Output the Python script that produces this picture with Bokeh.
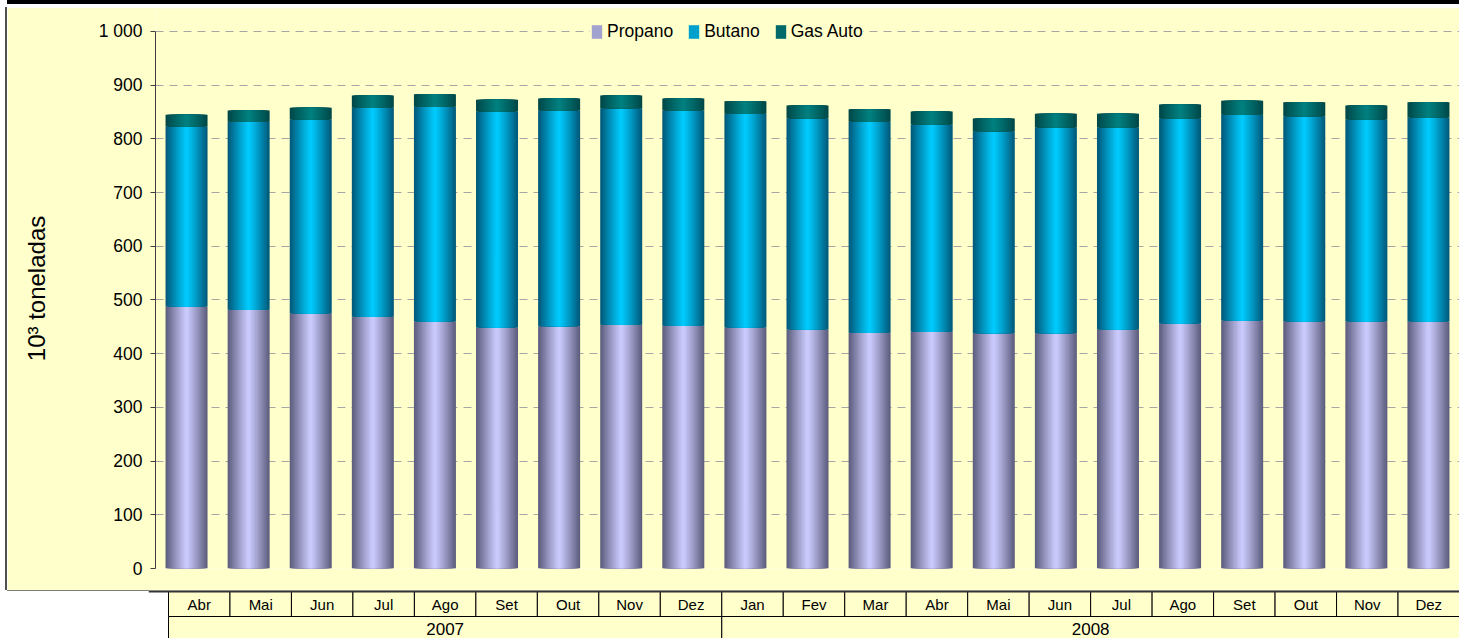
from bokeh.plotting import figure
from bokeh.models import ColumnDataSource, FactorRange, Range1d, FixedTicker, Legend, LegendItem, Span, Div
from bokeh.layouts import column
from bokeh.embed import file_html
from bokeh.resources import INLINE
from bokeh.core.properties import value

# ---------------- data ----------------
years = ["2007"] * 9 + ["2008"] * 12
months = ["Abr", "Mai", "Jun", "Jul", "Ago", "Set", "Out", "Nov", "Dez",
          "Jan", "Fev", "Mar", "Abr", "Mai", "Jun", "Jul", "Ago", "Set", "Out", "Nov", "Dez"]
propano = [488, 482, 475, 469, 460, 449, 451, 454, 452,
           449, 445, 439, 441, 438, 438, 445, 456, 462, 460, 460, 460]
butano = [335, 350, 361, 389, 400, 402, 402, 403, 401,
          398, 393, 393, 386, 376, 383, 376, 382, 383, 382, 376, 380]
gas_auto = [22, 21, 22, 23, 23, 22, 22, 24, 22,
            23, 24, 23, 24, 24, 26, 26, 26, 26, 26, 26, 28]
series_names = ["Propano", "Butano", "Gas Auto"]
y_ticks = [0, 100, 200, 300, 400, 500, 600, 700, 800, 900, 1000]
y_tick_labels = ["0", "100", "200", "300", "400", "500", "600", "700", "800", "900", "1 000"]
y_title = "10³ toneladas"

FONT = "Liberation Sans"
BG = "#FFFFCC"

# gradient colours (light centre, dark edge)
light_cols = ["#CCCCFF", "#00CCFF", "#008080"]
dark_cols = ["#5A5A7A", "#005676", "#004646"]


def mix(c1, c2, t):
    a = [int(c1[i:i + 2], 16) for i in (1, 3, 5)]
    b = [int(c2[i:i + 2], 16) for i in (1, 3, 5)]
    return "#%02x%02x%02x" % tuple(int(round(a[k] + (b[k] - a[k]) * t)) for k in range(3))


factors = list(zip(years, months))
p_top = [a for a in propano]
b_top = [a + b for a, b in zip(propano, butano)]
g_top = [a + b + c for a, b, c in zip(propano, butano, gas_auto)]
src = ColumnDataSource(dict(x=factors, zero=[0] * len(factors),
                            p_top=p_top, b_top=b_top, g_top=g_top))

# frames of a column are aligned on their local offset, so both use the same min_border_left
LOCAL_LEFT = 148

# ---------------- top rule ----------------
top_rule = Div(text="", width=1452, height=4, margin=(0, 0, 3, 7),
               styles={"background-color": "#000000"})

# ---------------- chart ----------------
p = figure(width=1452, height=583, margin=(0, 0, 0, 7),
           styles={"box-shadow": "-2px 0px 0px 0px #505050, 0px 1px 0px 0px #505050"},
           x_range=FactorRange(*factors, factor_padding=0, group_padding=0, range_padding=0),
           y_range=Range1d(0, 1042.8),
           output_backend="svg", toolbar_location=None,
           x_axis_location=None,
           min_border_left=LOCAL_LEFT, min_border_right=0, min_border_top=1, min_border_bottom=22,
           background_fill_color=BG, border_fill_color=BG, outline_line_color=None)

N = 16
W = 42 / 62.1
layers = [("zero", "p_top"), ("p_top", "b_top"), ("b_top", "g_top")]
legend_items = []
for s, (bot, top) in enumerate(layers):
    legend_r = None
    for j in range(N):
        frac = 1 - j / N
        tmid = frac - 0.5 / N
        col = mix(light_cols[s], dark_cols[s], min(1.0, tmid ** 1.1))
        r = p.vbar(x="x", width=W * frac, bottom=bot, top=top, source=src,
                   fill_color=col, line_color=None)
        if legend_r is None and tmid < 0.45:
            legend_r = r
    legend_items.append(LegendItem(label=series_names[s], renderers=[legend_r]))

p.xgrid.visible = False
p.ygrid.ticker = FixedTicker(ticks=y_ticks)
p.ygrid.grid_line_color = "#A6A6A6"
p.ygrid.grid_line_dash = "8 6"
p.ygrid.grid_line_width = 1

ax = p.yaxis[0]
ax.ticker = FixedTicker(ticks=y_ticks)
ax.major_label_overrides = {t: l for t, l in zip(y_ticks, y_tick_labels)}
ax.bounds = (0, 1000)
ax.axis_line_color = "#404040"
ax.major_tick_line_color = "#404040"
ax.major_tick_out = 5
ax.major_tick_in = 0
ax.minor_tick_line_color = None
ax.major_label_standoff = 8
ax.major_label_text_font = FONT
ax.major_label_text_font_size = "17.5px"
ax.major_label_text_color = "#000000"
ax.axis_label = y_title
ax.axis_label_text_font = FONT
ax.axis_label_text_font_size = "24px"
ax.axis_label_text_font_style = "normal"
ax.axis_label_text_color = "#000000"
ax.axis_label_standoff = 46

legend = Legend(items=legend_items, location=(435, 526), orientation="horizontal",
                background_fill_color=BG, background_fill_alpha=1.0,
                border_line_color=None, padding=10, margin=0, spacing=14,
                label_standoff=4, glyph_width=13, glyph_height=17, label_height=20,
                label_text_font=FONT, label_text_font_size="17.5px",
                label_text_color="#000000")
p.add_layout(legend)

# ---------------- table under the chart ----------------
table_left = 168
cell_px = (1459 - table_left) / len(months)
idx = list(range(len(months)))
t = figure(width=1459, height=48,
           x_range=Range1d(-(table_left - LOCAL_LEFT) / cell_px, len(months)),
           y_range=Range1d(-(638 - 616) / 25, 1 + 1 / 25),
           output_backend="svg", toolbar_location=None,
           x_axis_location=None, y_axis_location=None,
           min_border_left=LOCAL_LEFT, min_border_right=0, min_border_top=0, min_border_bottom=0,
           background_fill_color="#FFFFFF", border_fill_color="#FFFFFF",
           outline_line_color=None)
t.xgrid.visible = False
t.ygrid.visible = False

t.quad(left=idx, right=[i + 1 for i in idx], bottom=0, top=1,
       fill_color=BG, line_color="#000000", line_width=1)
t.text(x=[i + 0.5 for i in idx], y=0.5, text=months,
       text_align="center", text_baseline="middle",
       text_font=value(FONT), text_font_size="15px", text_color="#000000")

year_list = []
for y in years:
    if y not in year_list:
        year_list.append(y)
y_left = [years.index(y) for y in year_list]
y_right = [len(years) - years[::-1].index(y) for y in year_list]
t.quad(left=y_left, right=y_right, bottom=-1, top=0,
       fill_color=BG, line_color="#000000", line_width=1)
t.text(x=[(a + b) / 2 for a, b in zip(y_left, y_right)], y=-0.5, text=year_list,
       text_align="center", text_baseline="middle",
       text_font=value(FONT), text_font_size="17px", text_color="#000000")
t.add_layout(Span(location=1, dimension="width", line_color="#333333", line_width=2))

layout = column(top_rule, p, t, spacing=0)
open("out.html", "w").write(file_html(layout, INLINE))
